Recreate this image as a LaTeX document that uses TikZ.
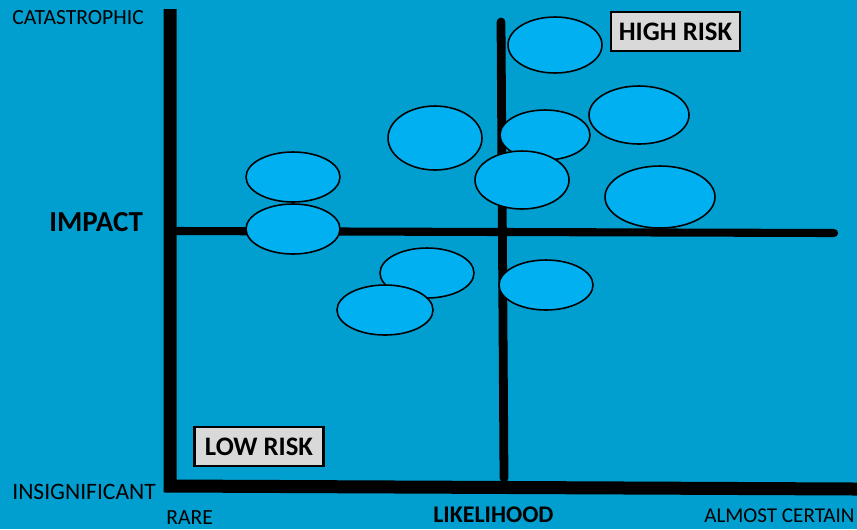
\documentclass[tikz,border=0pt]{standalone}
\usepackage{fontspec}
\setmainfont{Carlito}
\usepackage{tikz}

\definecolor{bgblue}{RGB}{0,159,208}
\definecolor{riskblue}{RGB}{0,176,240}
\definecolor{boxgray}{RGB}{217,217,217}

\begin{document}
\begin{tikzpicture}[x=0.02cm,y=-0.02cm,
    axislabel/.style={anchor=west,inner sep=0pt,font=\fontsize{12.3}{13}\selectfont},
    titlelabel/.style={anchor=west,inner sep=0pt,font=\bfseries},
    riskbox/.style={draw=black,line width=1.2pt,fill=boxgray,inner sep=0pt,
        minimum width=2.58cm,minimum height=0.78cm,font=\fontsize{15.2}{17}\selectfont\bfseries}]
    \fill[bgblue] (0,0) rectangle (857,529);
    \useasboundingbox (0,0) rectangle (857,529);
    % axes
    \draw[line width=7.4pt,line join=miter] (170,9) -- (170,486) -- (857,489);
    \draw[line width=5pt,line cap=round] (501,22) -- (504,478);
    \draw[line width=4.6pt,line cap=round] (176,231) -- (834,233);
    % risks
    \foreach \x/\y/\rx/\ry in {555/45/47/28, 639/115/50/29, 545/135/45/25,
        435/138/47/32, 293/177/47/25, 522/180/47/29, 660/197/55/31,
        293/229/47/25, 427/273/47/25, 546/285/47/25, 385/310/48/25}
    \filldraw[fill=riskblue,draw=black,line width=0.9pt] (\x,\y) ellipse ({\rx*0.02cm} and {\ry*0.02cm});
    % labels
    \node[axislabel] (cat) at (12,18) {CATASTROPHIC};
    \node[axislabel,font=\fontsize{13.4}{14}\selectfont] (insig) at (12,492) {INSIGNIFICANT};
    \node[axislabel] (rare) at (166,518) {RARE};
    \node[axislabel,font=\fontsize{12}{13}\selectfont] (certain) at (704,516) {ALMOST CERTAIN};
    \node[titlelabel,font=\fontsize{16.5}{18}\selectfont\bfseries] (impact) at (49,222) {IMPACT};
    \node[titlelabel,font=\fontsize{13.6}{15}\selectfont\bfseries] (likely) at (433,515) {LIKELIHOOD};
    \node[riskbox] (high) at (675.5,31.5) {HIGH RISK};
    \node[riskbox] (low) at (259,446.5) {LOW RISK};
\end{tikzpicture}
\end{document}
